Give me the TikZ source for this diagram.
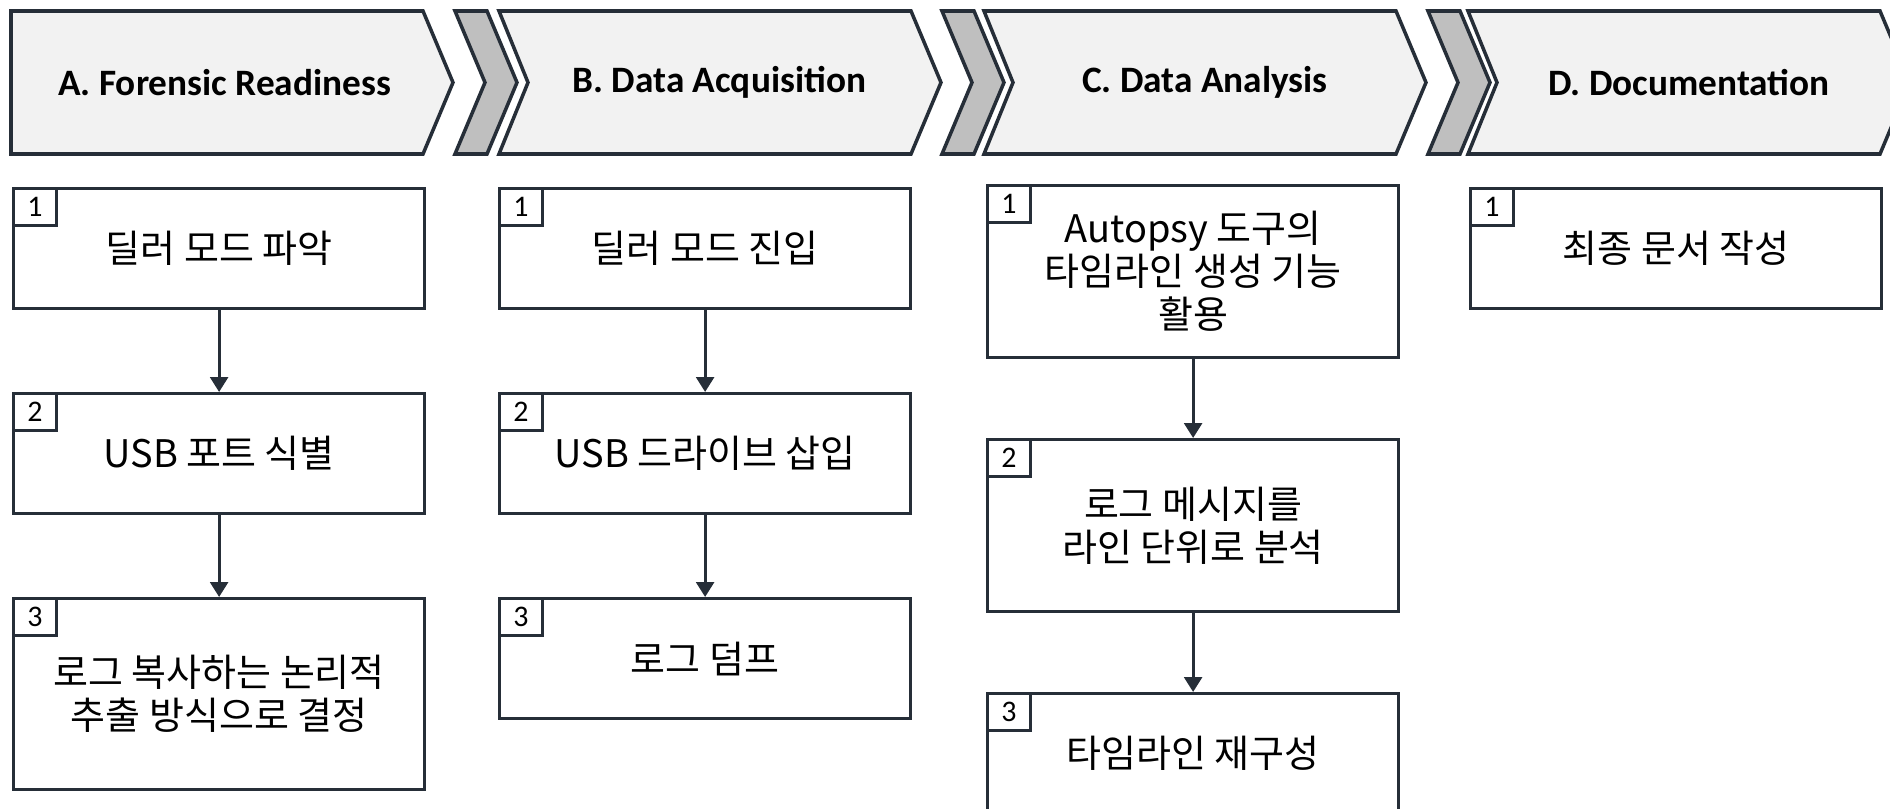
\documentclass[tikz,border=0pt]{standalone}
\usepackage{fontspec}
\setmainfont{Carlito}
\newfontfamily\kr{Noto Sans CJK KR}
\usetikzlibrary{arrows.meta}
\definecolor{ink}{RGB}{38,46,56}
\definecolor{paper}{RGB}{242,242,242}
\definecolor{link}{RGB}{191,191,191}
\def\stage[#1](#2:#3){\draw[#1] (#2,11) -- (#2+412,11) -- (#2+442,82.5) -- (#2+412,154) -- (#2,154) -- (#2+#3,82.5) -- cycle;}
\def\joint(#1){\draw[line width=1pt, draw=ink, fill=link] (#1,11) -- (#1+32,11) -- (#1+62,82.5) -- (#1+32,154) -- (#1,154) -- (#1+30,82.5) -- cycle;}

\begin{document}
\begin{tikzpicture}[x=0.01cm, y=-0.01cm,
		stepbox/.style={draw=ink, line width=0.85pt, anchor=north west, minimum width=4.11cm, align=center, inner sep=0pt, font=\kr\fontsize{10.8}{12.2}\selectfont},
		tag/.style={draw=ink, line width=0.85pt, anchor=north west, minimum width=0.43cm, minimum height=0.37cm, inner sep=0pt, font=\fontsize{8.5}{10}\selectfont},
		title/.style={font=\bfseries\fontsize{10.6}{13}\selectfont},
		flow/.style={draw=ink, line width=0.9pt, -{Triangle[width=5pt,length=4.2pt]}}]
		%%%%% START %%%%%
		
		\useasboundingbox (0,0) rectangle (1890,809);
		\clip (0,0) rectangle (1890,809);
		
		\stage[line width=1pt, draw=ink, fill=paper](11:0);
		\joint(455);
		\stage[line width=1pt, draw=ink, fill=paper](499:29);
		\joint(942);
		\stage[line width=1pt, draw=ink, fill=paper](984:29);
		\joint(1428);
		\stage[line width=1pt, draw=ink, fill=paper](1468:29);
		
		\node[title] (ha) at (224.5,82.5) {A. Forensic Readiness};
		\node[title] (hb) at (719.3,82.5) {B. Data Acquisition};
		\node[title] (hc) at (1204.8,82.5) {C. Data Analysis};
		\node[title] (hd) at (1688.8,82.5) {D. Documentation};
		
		\node[stepbox, minimum height=1.2cm] (a1) at (12,187) {딜러 모드 파악};
		\node[stepbox, minimum height=1.2cm] (a2) at (12,392) {USB 포트 식별};
		\node[stepbox, minimum height=1.91cm] (a3) at (12,597) {로그 복사하는 논리적\\추출 방식으로 결정};
		\node[tag] (a1n) at (a1.north west) {1};
		\node[tag] (a2n) at (a2.north west) {2};
		\node[tag] (a3n) at (a3.north west) {3};
		\draw[flow] (a1) -- (a2);
		\draw[flow] (a2) -- (a3);
		
		\node[stepbox, minimum height=1.2cm] (b1) at (498,187) {딜러 모드 진입};
		\node[stepbox, minimum height=1.2cm] (b2) at (498,392) {USB 드라이브 삽입};
		\node[stepbox, minimum height=1.2cm] (b3) at (498,597) {로그 덤프};
		\node[tag] (b1n) at (b1.north west) {1};
		\node[tag] (b2n) at (b2.north west) {2};
		\node[tag] (b3n) at (b3.north west) {3};
		\draw[flow] (b1) -- (b2);
		\draw[flow] (b2) -- (b3);
		
		\node[stepbox, minimum height=1.72cm] (c1) at (986,184) {Autopsy 도구의\\타임라인 생성 기능\\활용};
		\node[stepbox, minimum height=1.72cm] (c2) at (986,438) {로그 메시지를\\라인 단위로 분석};
		\node[stepbox, minimum height=1.2cm] (c3) at (986,692) {타임라인 재구성};
		\node[tag] (c1n) at (c1.north west) {1};
		\node[tag] (c2n) at (c2.north west) {2};
		\node[tag] (c3n) at (c3.north west) {3};
		\draw[flow] (c1) -- (c2);
		\draw[flow] (c2) -- (c3);
		
		\node[stepbox, minimum height=1.2cm] (d1) at (1469,187) {최종 문서 작성};
		\node[tag] (d1n) at (d1.north west) {1};
		
		%%%%% END %%%%%
	\end{tikzpicture}
\end{document}
